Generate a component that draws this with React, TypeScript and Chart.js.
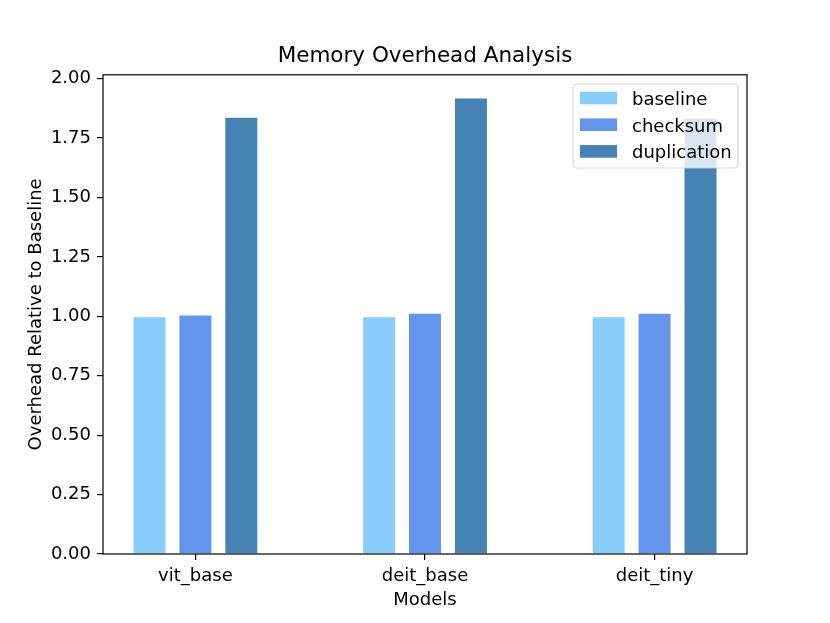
import React, { useEffect, useRef } from "react";
import { Chart, registerables } from "chart.js";

Chart.register(...registerables);

const models = ["vit_base", "deit_base", "deit_tiny"];
const seriesNames = ["baseline", "checksum", "duplication"];
const seriesColors = ["#87CEFA", "#6495ED", "#4682B4"];
const baselineValues = [1.0, 1.0, 1.0];
const checksumValues = [1.008, 1.015, 1.015];
const duplicationValues = [1.84, 1.92, 1.835];
const yTicks = [0, 0.25, 0.5, 0.75, 1.0, 1.25, 1.5, 1.75, 2.0];
const titleText = "Memory Overhead Analysis";
const xTitle = "Models";
const yTitle = "Overhead Relative to Baseline";

const FONT = "'DejaVu Sans', sans-serif";

const framePlugin = {
  id: "frame",
  afterDraw(chart: any) {
    const { ctx, chartArea } = chart;
    ctx.save();
    ctx.strokeStyle = "#000";
    ctx.lineWidth = 1.2;
    ctx.strokeRect(chartArea.left, chartArea.top, chartArea.right - chartArea.left, chartArea.bottom - chartArea.top);
    ctx.restore();
  },
};

const legendPlugin = {
  id: "innerLegend",
  afterDatasetsDraw(chart: any) {
    const { ctx } = chart;
    const datasets = chart.data.datasets;
    const x0 = 573;
    const y0 = 84;
    const w = 165;
    const h = 84;
    const r = 4;
    ctx.save();
    ctx.beginPath();
    ctx.moveTo(x0 + r, y0);
    ctx.lineTo(x0 + w - r, y0);
    ctx.arcTo(x0 + w, y0, x0 + w, y0 + r, r);
    ctx.lineTo(x0 + w, y0 + h - r);
    ctx.arcTo(x0 + w, y0 + h, x0 + w - r, y0 + h, r);
    ctx.lineTo(x0 + r, y0 + h);
    ctx.arcTo(x0, y0 + h, x0, y0 + h - r, r);
    ctx.lineTo(x0, y0 + r);
    ctx.arcTo(x0, y0, x0 + r, y0, r);
    ctx.closePath();
    ctx.fillStyle = "rgba(255,255,255,0.8)";
    ctx.fill();
    ctx.strokeStyle = "rgba(204,204,204,0.8)";
    ctx.lineWidth = 1.2;
    ctx.stroke();
    ctx.font = `18px ${FONT}`;
    ctx.textBaseline = "alphabetic";
    ctx.textAlign = "left";
    datasets.forEach((ds: any, i: number) => {
      const cy = 98 + i * 26.7;
      ctx.fillStyle = ds.backgroundColor;
      ctx.fillRect(580, cy - 6.3, 37, 12.6);
      ctx.fillStyle = "#000";
      ctx.fillText(ds.label, 632, cy + 7);
    });
    ctx.restore();
  },
};

export default function App() {
  const ref = useRef<HTMLCanvasElement | null>(null);

  useEffect(() => {
    if (!ref.current) return;
    const values = [baselineValues, checksumValues, duplicationValues];
    const chart = new Chart(ref.current, {
      type: "bar",
      data: {
        datasets: seriesNames.map((name, si) => ({
          label: name,
          data: values[si].map((v, i) => ({ x: i, y: v })),
          backgroundColor: seriesColors[si],
          borderColor: "#ffffff",
          borderWidth: 1,
          categoryPercentage: 0.6,
          barPercentage: 0.74,
        })),
      },
      options: {
        responsive: true,
        maintainAspectRatio: false,
        animation: false,
        layout: { padding: { left: 0, right: 83, top: 0, bottom: 0 } },
        plugins: {
          legend: { display: false },
          tooltip: { enabled: false },
          title: {
            display: true,
            text: titleText,
            fullSize: false,
            color: "#000",
            font: { family: FONT, size: 21.5, weight: "normal" },
            padding: { top: 44, bottom: 5 },
          },
        },
        scales: {
          x: {
            type: "linear",
            offset: false,
            min: -0.4025,
            max: 2.4025,
            afterBuildTicks: (scale: any) => {
              scale.ticks = models.map((_, i) => ({ value: i }));
            },
            afterFit: (scale: any) => {
              scale.height = 69;
            },
            ticks: {
              callback: (v: any) => models[Math.round(Number(v))] ?? "",
              color: "#000",
              font: { family: FONT, size: 18 },
              padding: 5.5,
              maxRotation: 0,
              autoSkip: false,
            },
            grid: { display: true, offset: false, drawOnChartArea: false, drawTicks: true, tickLength: 6, color: "#000", lineWidth: 1.2 },
            border: { display: false },
            title: {
              display: true,
              text: xTitle,
              color: "#000",
              font: { family: FONT, size: 18 },
              padding: { top: 0, bottom: 12 },
            },
          },
          y: {
            min: 0,
            max: 2.016,
            afterBuildTicks: (scale: any) => {
              scale.ticks = yTicks.map((v) => ({ value: v }));
            },
            afterFit: (scale: any) => {
              scale.width = 103;
            },
            ticks: {
              callback: (v: any) => Number(v).toFixed(2),
              color: "#000",
              font: { family: FONT, size: 18 },
              padding: 6,
              autoSkip: false,
            },
            grid: { display: true, drawOnChartArea: false, drawTicks: true, tickLength: 6, color: "#000", lineWidth: 1.2 },
            border: { display: false },
            title: {
              display: true,
              text: yTitle,
              color: "#000",
              font: { family: FONT, size: 18 },
              padding: { top: 26, bottom: 0 },
            },
          },
        },
      },
      plugins: [framePlugin, legendPlugin],
    } as any);
    return () => chart.destroy();
  }, []);

  return (
    <div style={{ position: "fixed", left: 0, top: 0, width: 830, height: 623, background: "#fff" }}>
      <canvas ref={ref} />
    </div>
  );
}
